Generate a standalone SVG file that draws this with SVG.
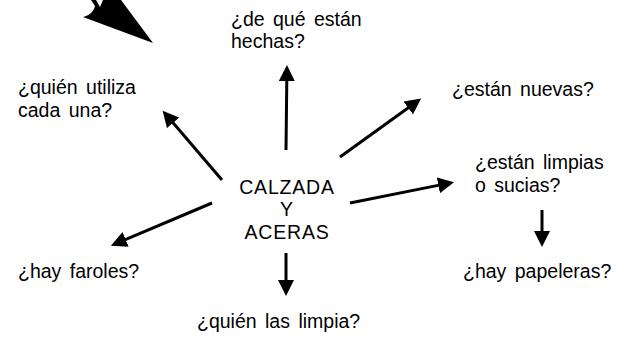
<svg xmlns="http://www.w3.org/2000/svg" width="640" height="338" viewBox="0 0 640 338">
<style>
text{font-family:"Liberation Sans",Arial,sans-serif;font-size:19.5px;fill:#000;word-spacing:3px}
.c{text-anchor:middle;letter-spacing:0.8px}
.ln{stroke:#000;stroke-width:3;fill:none;marker-end:url(#ah)}
</style>
<defs>
<marker id="ah" markerUnits="userSpaceOnUse" markerWidth="18" markerHeight="18" refX="1" refY="8" orient="auto" viewBox="0 0 18 16">
<path d="M0,0 L16,8 L0,16 z" fill="#000"/>
</marker>
</defs>
<rect width="640" height="338" fill="#fff"/>
<path id="bigarrow" d="M83,17 C90,15 94,11 95,6 L91,0 L96,0 L100,7 L103,0 L121,0 L153,43 Z" fill="#000"/>
<g id="connectors">
<line class="ln" x1="286" y1="150" x2="286.8" y2="80"/>
<line class="ln" x1="222" y1="180" x2="172.4" y2="122.1"/>
<line class="ln" x1="340" y1="157" x2="409" y2="107.3"/>
<line class="ln" x1="350" y1="203" x2="439.3" y2="185.1"/>
<line class="ln" x1="542" y1="210" x2="542" y2="232"/>
<line class="ln" x1="212" y1="203" x2="124.7" y2="239.8"/>
<line class="ln" x1="286" y1="253" x2="286" y2="281"/>
</g>
<g id="center"><text class="c" x="287" y="194">CALZADA</text><text class="c" x="287" y="216">Y</text><text class="c" x="287" y="239">ACERAS</text></g>
<g id="hechas"><text x="231" y="26">¿de qué están</text><text x="231" y="48">hechas?</text></g>
<g id="utiliza"><text x="18" y="94">¿quién utiliza</text><text x="18" y="117">cada una?</text></g>
<g id="nuevas"><text x="452" y="96">¿están nuevas?</text></g>
<g id="limpias"><text x="475" y="169">¿están limpias</text><text x="475" y="192">o sucias?</text></g>
<g id="faroles"><text x="18" y="278">¿hay faroles?</text></g>
<g id="papeleras"><text x="463" y="278">¿hay papeleras?</text></g>
<g id="limpia"><text x="197" y="328">¿quién las limpia?</text></g>
</svg>
